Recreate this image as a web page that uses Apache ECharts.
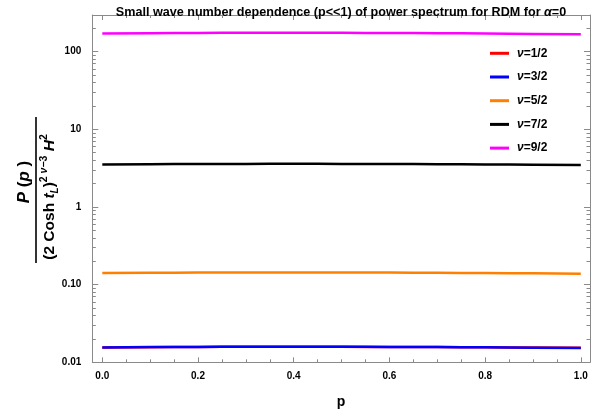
<!DOCTYPE html>
<html><head><meta charset="utf-8">
<script src="https://cdn.jsdelivr.net/npm/echarts@6/dist/echarts.min.js"></script>
<style>html,body{margin:0;padding:0;background:#fff}#c{width:599px;height:419px}</style>
</head><body><div id="c"></div>
<script>
// ---- data ----
var pValues = [0, 0.1, 0.2, 0.3, 0.4, 0.5, 0.6, 0.7, 0.8, 0.9, 1.0];
var nu12 = [0.01556,0.01568,0.01577,0.01582,0.01584,0.01582,0.01577,0.01570,0.01560,0.01549,0.01538];
var nu32 = [0.01556,0.01569,0.01578,0.01583,0.01585,0.01583,0.01577,0.01569,0.01558,0.01545,0.01532];
var nu52 = [0.1410,0.1422,0.1430,0.1435,0.1437,0.1435,0.1430,0.1422,0.1412,0.1400,0.1386];
var nu72 = [3.53,3.56,3.58,3.59,3.595,3.59,3.58,3.56,3.54,3.51,3.48];
var nu92 = [172,173.5,174.5,175,175.2,175,174.3,173,171.5,169.5,167.5];
var seriesNames = ['ν=1/2','ν=3/2','ν=5/2','ν=7/2','ν=9/2'];
var xMajorTicks = [0, 0.2, 0.4, 0.6, 0.8, 1.0];
var xMinorTicks = [0.05,0.1,0.15,0.25,0.3,0.35,0.45,0.5,0.55,0.65,0.7,0.75,0.85,0.9,0.95];
var yMajorTicks = [0.01, 0.1, 1, 10, 100];
var yMajorLabels = ['0.01', '0.10', '1', '10', '100'];
var yMinorTicks = [0.02,0.03,0.04,0.05,0.06,0.07,0.08,0.09,0.2,0.3,0.4,0.5,0.6,0.7,0.8,0.9,2,3,4,5,6,7,8,9,20,30,40,50,60,70,80,90,200];
var xMin = -0.0209, xMax = 1.0192, yMin = 0.01, yMax = 297;
// ---- chart ----
var FONT = '"Liberation Sans", Arial, sans-serif';
var GRAY = '#8a8a8a';
var colors = ['#ff0000', '#0000ff', '#ff8000', '#000000', '#ff00ff'];
var allData = [nu12, nu32, nu52, nu72, nu92];

function mkX(pos, ticks, len, labels, extra) {
  var a = {
    type: 'value', position: pos, min: xMin, max: xMax,
    splitLine: {show: false},
    axisLine: {show: labels, onZero: false, lineStyle: {color: GRAY, width: 1}},
    axisTick: {show: true, inside: true, length: len, customValues: ticks, lineStyle: {color: GRAY, width: 1}},
    axisLabel: {show: labels && pos === 'bottom', customValues: ticks, formatter: function (v) { return v.toFixed(1); },
      color: '#000', fontFamily: FONT, fontWeight: 'bold', fontSize: 10, margin: 9}
  };
  if (extra) for (var k in extra) a[k] = extra[k];
  return a;
}
function mkY(pos, ticks, len, labels) {
  return {
    type: 'log', logBase: 10, position: pos, min: yMin, max: yMax,
    splitLine: {show: false},
    axisLine: {show: labels, onZero: false, lineStyle: {color: GRAY, width: 1}},
    axisTick: {show: true, inside: true, length: len, customValues: ticks, lineStyle: {color: GRAY, width: 1}},
    axisLabel: {show: labels && pos === 'left', customValues: ticks,
      formatter: function (v) {
        for (var i = 0; i < yMajorTicks.length; i++) if (Math.abs(v / yMajorTicks[i] - 1) < 1e-6) return yMajorLabels[i];
        return '';
      },
      color: '#000', fontFamily: FONT, fontWeight: 'bold', fontSize: 10, margin: 11}
  };
}

var series = allData.map(function (arr, i) {
  return {
    name: seriesNames[i], type: 'line', xAxisIndex: 0, yAxisIndex: 0,
    data: pValues.map(function (p, j) { return [p, arr[j]]; }),
    showSymbol: false, smooth: true, z: 2 + i,
    lineStyle: {color: colors[i], width: 2.5}, itemStyle: {color: colors[i]}
  };
});

var chart = echarts.init(document.getElementById('c'), null, {renderer: 'canvas'});
chart.setOption({
  animation: false,
  backgroundColor: '#fff',
  title: {
    text: 'Small wave number dependence (p<<1) of power spectrum for RDM for {a|α}=0',
    left: 336, top: 1, textAlign: 'center',
    textStyle: {fontFamily: FONT, fontWeight: 'bold', fontSize: 12.6, color: '#000',
      rich: {a: {fontFamily: FONT, fontStyle: 'italic', fontWeight: 'bold', fontSize: 12.6, color: '#000'}}}
  },
  legend: {
    orient: 'vertical', left: 485, top: 42.3, itemGap: 11.7,
    itemWidth: 19, itemHeight: 3, icon: 'rect',
    data: seriesNames,
    formatter: function (n) { return '{i|ν}{n|' + n.slice(1) + '}'; },
    textStyle: {fontFamily: FONT, fontWeight: 'bold', fontSize: 12, color: '#000', padding: [0, 0, 0, 3],
      rich: {i: {fontFamily: FONT, fontStyle: 'italic', fontWeight: 'bold', fontSize: 12, color: '#000'},
             n: {fontFamily: FONT, fontWeight: 'bold', fontSize: 12, color: '#000'}}}
  },
  grid: {left: 92.3, right: 9, top: 15, bottom: 56.7, containLabel: false},
  xAxis: [
    mkX('bottom', xMajorTicks, 5, true, {name: 'p', nameLocation: 'middle', nameGap: 33,
      nameTextStyle: {fontFamily: FONT, fontWeight: 'bold', fontSize: 14, color: '#000'}}),
    mkX('bottom', xMinorTicks, 3, false),
    mkX('top', xMajorTicks, 5, true),
    mkX('top', xMinorTicks, 3, false)
  ],
  yAxis: [
    mkY('left', yMajorTicks, 6, true),
    mkY('left', yMinorTicks, 3.5, false),
    mkY('right', yMajorTicks, 6, true),
    mkY('right', yMinorTicks, 3.5, false)
  ],
  graphic: [{
    type: 'group', x: 36, y: 190, rotation: Math.PI / 2,
    children: [
      {type: 'line', shape: {x1: -73, y1: 0, x2: 73, y2: 0}, style: {stroke: '#000', lineWidth: 1.6}},
      {type: 'text', x: 8, y: -3, style: {
        text: '{i|P}{n| (}{i|p}{n| )}', align: 'center', verticalAlign: 'bottom',
        rich: {i: {fontFamily: FONT, fontStyle: 'italic', fontWeight: 'bold', fontSize: 17, fill: '#000'},
               n: {fontFamily: FONT, fontWeight: 'bold', fontSize: 17, fill: '#000'}}}},
      {type: 'text', x: -7, y: 3, style: {
        text: '{n|(2 Cosh }{i|t}{s|L}{n|)}{u|2 }{ui|ν}{u|−3}{n| }{i|H}{u|2}', align: 'center', verticalAlign: 'top',
        rich: {i: {fontFamily: FONT, fontStyle: 'italic', fontWeight: 'bold', fontSize: 15.5, fill: '#000', lineHeight: 21},
               n: {fontFamily: FONT, fontWeight: 'bold', fontSize: 15.5, fill: '#000', lineHeight: 21},
               s: {fontFamily: FONT, fontStyle: 'italic', fontWeight: 'bold', fontSize: 10, fill: '#000', verticalAlign: 'bottom', lineHeight: 15},
               u: {fontFamily: FONT, fontWeight: 'bold', fontSize: 10.5, fill: '#000', verticalAlign: 'top', lineHeight: 10},
               ui: {fontFamily: FONT, fontStyle: 'italic', fontWeight: 'bold', fontSize: 10.5, fill: '#000', verticalAlign: 'top', lineHeight: 10}}}}
    ]
  }],
  series: series
});
</script></body></html>
